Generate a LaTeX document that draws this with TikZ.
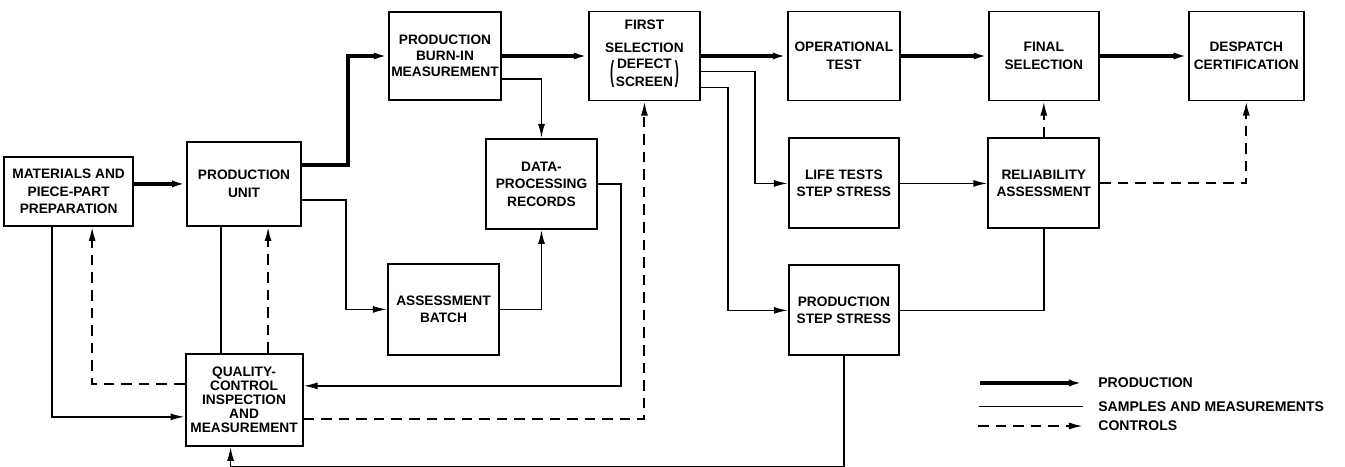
\documentclass[tikz,border=0pt]{standalone}
\usepackage{fontspec}
\setmainfont{Liberation Sans}
\usetikzlibrary{arrows.meta, positioning}

% tall bracket round a two-line label
\newcommand{\tallbrace}[1]{$\vcenter{\hbox{\scalebox{0.9}[2.1]{#1}}}$}

\begin{document}
\begin{tikzpicture}[
    unit/.style={
        rectangle, draw=black, line width=1.1pt,
        minimum width=2.22cm, minimum height=1.78cm,
        inner sep=1pt, align=center,
        font=\fontsize{7.8}{10}\selectfont\bfseries
    },
    prod/.style={-{Latex[length=8pt, width=4pt]}, line width=2.2pt},
    sample/.style={line width=0.9pt},
    samplearr/.style={sample, -{Latex[length=8pt, width=4pt]}},
    ctrl/.style={-{Latex[length=8pt, width=4pt]}, line width=1.1pt,
        dash pattern=on 6pt off 4pt},
    keytext/.style={anchor=west, inner sep=0pt,
        font=\fontsize{8}{10}\selectfont\bfseries},
    node distance=0.72cm and 1.72cm
]
\useasboundingbox (0,0) rectangle (26.9,-9.32);

% ===================================================================
% TOP ROW: production line
% ===================================================================
\node[unit, minimum width=2.24cm, minimum height=1.76cm] (burn) at (8.9,-1.12)
    {PRODUCTION\\[-1pt]BURN-IN\\[-1pt]MEASUREMENT};
\node[unit, right=1.72cm of burn] (fs)
    {FIRST\\[3pt]SELECTION\\[1pt]
     \tallbrace{(}\kern1pt$\vcenter{\hbox{\begin{tabular}{@{}c@{}}DEFECT\\[0pt]SCREEN\end{tabular}}}$\kern1pt\tallbrace{)}};
\node[unit, right=1.72cm of fs, minimum width=2.24cm] (op)
    {OPERATIONAL\\TEST};
\node[unit, right=1.74cm of op, minimum width=2.2cm] (fin)
    {FINAL\\SELECTION};
\node[unit, right=1.76cm of fin, minimum width=2.3cm] (desp)
    {DESPATCH\\CERTIFICATION};

% ===================================================================
% MIDDLE AND LOWER ROWS
% ===================================================================
\node[unit, below=0.72cm of op, minimum width=2.2cm, minimum height=1.8cm] (lt)
    {LIFE TESTS\\STEP STRESS};
\node[unit, below=0.72cm of fin, minimum height=1.8cm] (rel)
    {RELIABILITY\\ASSESSMENT};
\node[unit, below=0.7cm of lt, minimum width=2.2cm, minimum height=1.8cm] (pss)
    {PRODUCTION\\STEP STRESS};

\node[unit, below=0.74cm of burn, xshift=1.93cm, minimum height=1.8cm] (dp)
    {DATA-\\PROCESSING\\RECORDS};
\node[unit, below=0.66cm of dp, xshift=-1.96cm, minimum height=1.82cm] (ab)
    {ASSESSMENT\\BATCH};

% ===================================================================
% LEFT SIDE: preparation, unit, quality control
% ===================================================================
\node[unit, left=3.66cm of dp, minimum width=2.28cm, minimum height=1.68cm] (pu)
    {PRODUCTION\\UNIT};
\node[unit, left=1.04cm of pu, yshift=-0.15cm,
      minimum width=2.58cm, minimum height=1.38cm] (mat)
    {MATERIALS AND\\PIECE-PART\\PREPARATION};
\node[unit, below=2.52cm of pu, minimum width=2.34cm, minimum height=1.84cm] (qc)
    {QUALITY-\\[-2pt]CONTROL\\[-2pt]INSPECTION\\[-2pt]AND\\[-2pt]MEASUREMENT};

% production flow
\draw[prod] (mat.east |- pu.west) -- (pu.west);
\draw[prod] ([yshift=0.38cm]pu.east) -- ++(0.92,0) |- (burn.west);
\draw[prod] (burn.east) -- (fs.west);
\draw[prod] (fs.east) -- (op.west);
\draw[prod] (op.east) -- (fin.west);
\draw[prod] (fin.east) -- (desp.west);

% samples and measurements
\draw[samplearr] ([yshift=-0.32cm]pu.east) -- ++(0.88,0) |- (ab.west);
\draw[samplearr] ([yshift=-0.46cm]burn.east) -| (dp.north);
\draw[samplearr] (ab.east) -| (dp.south);
\draw[samplearr] (dp.east) -- ++(0.46,0) |- ([yshift=0.28cm]qc.east);
\draw[sample] ([xshift=-0.46cm]qc.north) -- ([xshift=-0.46cm]qc.north |- pu.south);
\draw[samplearr] ([xshift=-0.33cm]mat.south) |- ([yshift=-0.34cm]qc.west);
\draw[samplearr] (pss.south) -- ++(0,-2.2) -| ([xshift=-0.27cm]qc.south);
\draw[samplearr] ([yshift=-0.31cm]fs.east) -- ++(1.08,0) |- (lt.west);
\draw[samplearr] ([yshift=-0.63cm]fs.east) -- ++(0.54,0) |- (pss.west);
\draw[samplearr] (lt.east) -- (rel.west);
\draw[sample] (pss.east) -| (rel.south);

% controls
\draw[ctrl] ([xshift=0.48cm]qc.north) -- ([xshift=0.48cm]qc.north |- pu.south);
\draw[ctrl] ([yshift=0.32cm]qc.west) -| ([xshift=0.47cm]mat.south);
\draw[ctrl] ([yshift=-0.38cm]qc.east) -| (fs.south);
\draw[ctrl] (rel.north) -- (fin.south);
\draw[ctrl] (rel.east) -| (desp.south);

% ===================================================================
% KEY
% ===================================================================
\node[keytext] (keyprod) at (21.96,-7.66) {PRODUCTION};
\node[keytext] (keysamp) at (21.96,-8.13) {SAMPLES AND MEASUREMENTS};
\node[keytext] (keyctrl) at (21.96,-8.52) {CONTROLS};
\draw[prod] ([xshift=-2.36cm]keyprod.west) -- ([xshift=-0.3cm]keyprod.west);
\draw[sample] ([xshift=-2.38cm]keysamp.west) -- ([xshift=-0.3cm]keysamp.west);
\draw[ctrl] ([xshift=-2.4cm]keyctrl.west) -- ([xshift=-0.3cm]keyctrl.west);

\end{tikzpicture}
\end{document}
